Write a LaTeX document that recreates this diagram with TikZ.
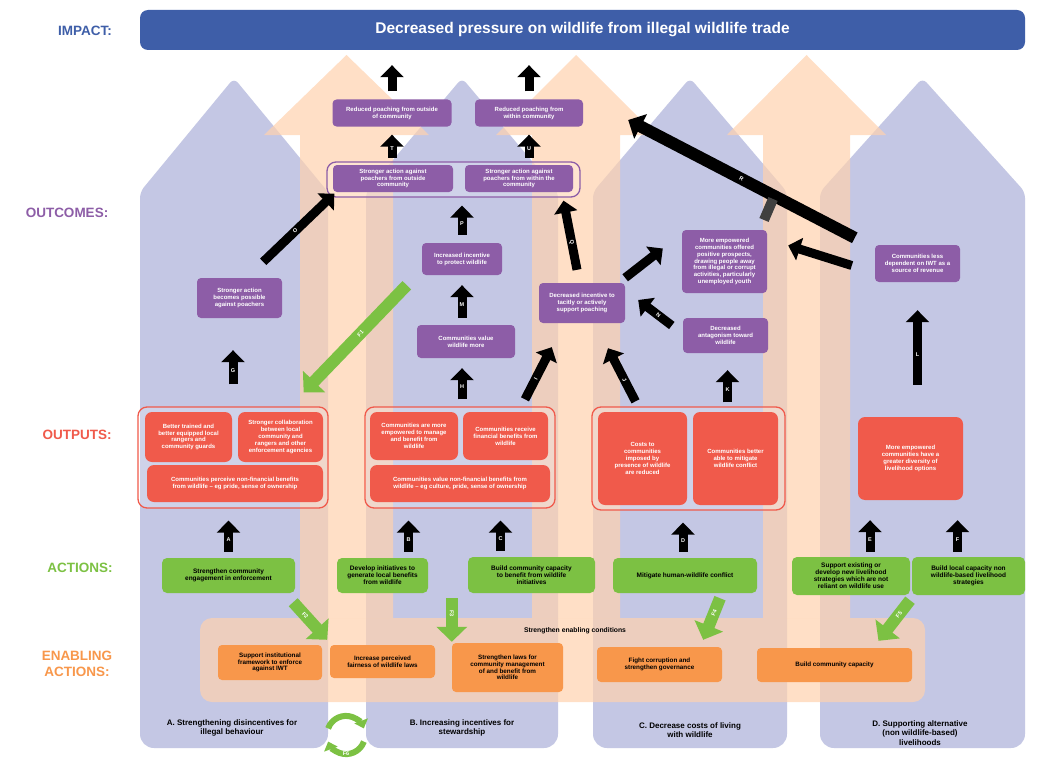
\documentclass[tikz,border=0pt]{standalone}
\usepackage{fontspec}
\setmainfont{Liberation Sans}
\usepackage{xcolor}
\usepackage{tikz}
\usetikzlibrary{arrows.meta,calc,positioning}
\definecolor{lav}{RGB}{196,199,228}
\definecolor{pch}{RGB}{255,210,174}
\definecolor{impblue}{RGB}{62,94,168}
\definecolor{outcpurple}{RGB}{141,93,167}
\definecolor{outpred}{RGB}{240,90,75}
\definecolor{actgreen}{RGB}{124,193,67}
\definecolor{enaborange}{RGB}{248,151,75}

\begin{document}
\begin{tikzpicture}[x=1pt,y=-1pt,line join=round,
  box/.style={rectangle,rounded corners=4pt,align=center,inner sep=1pt,font=\fontsize{6}{6.9}\selectfont\bfseries},
  sz/.style 2 args={minimum width=#1pt,minimum height=#2pt},
  outcbox/.style={box,fill=outcpurple,text=white},
  outpbox/.style={box,fill=outpred,text=white,rounded corners=7pt},
  actbox/.style={box,fill=actgreen,text=black,rounded corners=5pt,font=\fontsize{6.5}{7.1}\selectfont\bfseries},
  enabbox/.style={box,fill=enaborange,text=black,font=\fontsize{6.3}{6.8}\selectfont\bfseries},
  grp/.style={draw=#1,line width=1.3pt,rounded corners=9pt,inner sep=0pt,fill=white,fill opacity=.2},
  blk/.style={line width=9pt,-{Triangle[width=23pt,length=12pt]}},
  grn/.style={actgreen,line width=12pt,-{Triangle[width=30pt,length=15pt]}},
  lbl/.style={font=\fontsize{5.5}{6}\selectfont\bfseries,text=white,inner sep=0pt},
  lvl/.style={font=\fontsize{13.5}{15.5}\selectfont\bfseries,align=center},
  foot/.style={font=\fontsize{8}{9.2}\selectfont\bfseries,align=center}]
\fill[white] (0,0) rectangle (1053,760);
\useasboundingbox (0,0) rectangle (1053,760);
\foreach \l/\r in {140/328,366/558,593/787,820/1025}
  \fill[lav] (\l,600) [rounded corners=14pt]-- (\l,748) -- (\r,748) -- (\r,600)
    [rounded corners=6pt]-- (\r,192) -- ({(\l+\r)/2},78) -- (\l,192) -- cycle;
\foreach \l/\r in {300/393,532/620,763/850}
  \fill[pch,opacity=.7] (\l,618) -- (\l,135) -- (\l-36,135) -- ({(\l+\r)/2},55)
    -- (\r+36,135) -- (\r,135) -- (\r,618) -- cycle;
\node[fill=pch,fill opacity=.7,rounded corners=12pt,sz={725}{84},inner sep=0pt] (band) at (562.5,660) {};
\node[fill=impblue,text=white,rounded corners=8pt,sz={885}{40},font=\fontsize{15.5}{17}\selectfont\bfseries]
  (imp) at (582.5,30) {Decreased pressure on wildlife from illegal wildlife trade};

\node[lvl,text=impblue] (hImp) at (85,31) {IMPACT:};
\node[lvl,text=outcpurple] (hOutc) at (67,213) {OUTCOMES:};
\node[lvl,text=outpred] (hOutp) at (77,435) {OUTPUTS:};
\node[lvl,text=actgreen] (hAct) at (80,568) {ACTIONS:};
\node[lvl,text=enaborange] (hEnab) at (77,664) {ENABLING\\ACTIONS:};

\node[grp=outcpurple,sz={253}{35}] (topf) at (453.5,179.5) {};
\node[grp=outpred,sz={190}{101}] (oA) at (233,457.5) {};
\node[grp=outpred,sz={190}{101}] (oB) at (460,457.5) {};
\node[grp=outpred,sz={193}{103}] (oC) at (688.5,458.5) {};

\node[outcbox,sz={119}{27}] (rpo) at (392,113) {Reduced poaching from outside\\of community};
\node[outcbox,sz={108}{27}] (rpw) at (529,113) {Reduced poaching from\\within community};
\node[outcbox,sz={120}{27}] (sao) at (393,178.5) {Stronger action against\\poachers from outside\\community};
\node[outcbox,sz={108}{27}] (saw) at (519,178.5) {Stronger action against\\poachers from within the\\community};
\node[outcbox,sz={85}{40}] (sap) at (239.5,298) {Stronger action\\becomes possible\\against poachers};
\node[outcbox,sz={80}{32}] (iip) at (462,259) {Increased incentive\\to protect wildlife};
\node[outcbox,sz={98}{33}] (cvw) at (466,341.5) {Communities value\\wildlife more};
\node[outcbox,sz={86}{40}] (dis) at (582,303) {Decreased incentive to\\tacitly or actively\\support poaching};
\node[outcbox,sz={85}{63}] (mep) at (724.5,261.5) {More empowered\\communities offered\\positive prospects,\\drawing people away\\from illegal or corrupt\\activities, particularly\\unemployed youth};
\node[outcbox,sz={85}{35}] (dat) at (725.5,335.5) {Decreased\\antagonism toward\\wildlife};
\node[outcbox,sz={85}{37}] (cld) at (917.5,263.5) {Communities less\\dependent on IWT as a\\source of revenue};

\node[outpbox,sz={87}{50}] (btr) at (188.5,437) {Better trained and\\better equipped local\\rangers and\\community guards};
\node[outpbox,sz={85}{50}] (scl) at (280.5,437) {Stronger collaboration\\between local\\community and\\rangers and other\\enforcement agencies};
\node[outpbox,sz={176}{37}] (cpn) at (235,483.5) {Communities perceive non-financial benefits\\from wildlife -- eg pride, sense of ownership};
\node[outpbox,sz={88}{48}] (cem) at (414,436) {Communities are more\\empowered to manage\\and benefit from\\wildlife};
\node[outpbox,sz={85}{48}] (crf) at (505.5,436) {Communities receive\\financial benefits from\\wildlife};
\node[outpbox,sz={180}{37}] (cvn) at (460,483.5) {Communities value non-financial benefits from\\wildlife -- eg culture, pride, sense of ownership};
\node[outpbox,sz={89}{93}] (cci) at (642.5,458.5) {Costs to\\communities\\imposed by\\presence of wildlife\\are reduced};
\node[outpbox,sz={85}{93}] (cbm) at (735.5,458.5) {Communities better\\able to mitigate\\wildlife conflict};
\node[outpbox,sz={105}{83}] (mgd) at (910.5,458.5) {More empowered\\communities have a\\greater diversity of\\livelihood options};

\node[actbox,sz={133}{35}] (actA) at (228.5,575.5) {Strengthen community\\engagement in enforcement};
\node[actbox,sz={91}{35}] (actB) at (382.5,575.5) {Develop initiatives to\\generate local benefits\\from wildlife};
\node[actbox,sz={127}{36}] (actC) at (531.5,575) {Build community capacity\\to benefit from wildlife\\initiatives};
\node[actbox,sz={144}{35}] (actD) at (685,575.5) {Mitigate human-wildlife conflict};
\node[actbox,sz={118}{38}] (actE) at (851,576) {Support existing or\\develop new livelihood\\strategies which are not\\reliant on wildlife use};
\node[actbox,sz={113}{38}] (actF) at (968.5,576) {Build local capacity non\\wildlife-based livelihood\\strategies};

\node[font=\fontsize{6.8}{8}\selectfont\bfseries] (bandlbl) at (575,631) {Strengthen enabling conditions};
\node[enabbox,sz={104}{35}] (en1) at (270,662.5) {Support institutional\\framework to enforce\\against IWT};
\node[enabbox,sz={105}{33}] (en2) at (382.5,661.5) {Increase perceived\\fairness of wildlife laws};
\node[enabbox,sz={111}{49}] (en3) at (507.5,667.5) {Strengthen laws for\\community management\\of and benefit from\\wildlife};
\node[enabbox,sz={125}{35}] (en4) at (659.5,664.5) {Fight corruption and\\strengthen governance};
\node[enabbox,sz={155}{34}] (en5) at (834.5,665) {Build community capacity};

\node[foot] (fA) at (232,728) {A. Strengthening disincentives for\\illegal behaviour};
\node[foot] (fB) at (462,728) {B. Increasing incentives for\\stewardship};
\node[foot] (fC) at (690,730) {C. Decrease costs of living\\with wildlife};
\node[foot] (fD) at (920,733) {D. Supporting alternative\\(non wildlife-based)\\livelihoods};

\draw[blk] ([yshift=8pt]rpo.north) -- ([yshift=-15pt]rpo.north |- imp.south);
\draw[blk] ([yshift=8pt]rpw.north) -- ([yshift=-15pt]rpw.north |- imp.south);
\draw[blk] ([yshift=7pt]rpo.south |- sao.north) -- node[lbl,pos=.4]{T} ([yshift=-8pt]rpo.south);
\draw[blk] ([yshift=7pt]rpw.south |- saw.north) -- node[lbl,pos=.4]{U} ([yshift=-8pt]rpw.south);
\draw[blk] ([yshift=8pt]iip.north) -- node[lbl,pos=.4]{P} ([yshift=-8pt]iip.north |- topf.south);
\draw[blk] ([yshift=7pt]iip.south |- cvw.north) -- node[lbl,pos=.4]{M} ([yshift=-10pt]iip.south);
\draw[blk] ([yshift=7pt]iip.south |- oB.north) -- node[lbl,pos=.4]{H} ([yshift=-10pt]iip.south |- cvw.south);
\draw[blk] ([yshift=22pt]oA.north) -- node[lbl,pos=.4]{G} ([yshift=-32pt]oA.north |- sap.south);
\draw[blk] ([xshift=-19pt,yshift=16pt]sap.north east) -- node[lbl,pos=.45,sloped]{O} ([xshift=8pt,yshift=4pt]topf.south west);
\draw[blk] ([xshift=65pt,yshift=7pt]oB.north) -- node[lbl,pos=.4,sloped]{I} ([xshift=13pt,yshift=-24pt]dis.south west);
\draw[blk] ([xshift=-5pt,yshift=13pt]dis.north) -- node[lbl,pos=.4,sloped]{Q} ([xshift=110pt,yshift=-3pt]topf.south);
\draw[blk] ([xshift=-53pt,yshift=5pt]oC.north) -- node[lbl,pos=.4,sloped]{J} ([xshift=26pt,yshift=-25pt]dis.south);
\draw[blk] ([xshift=39pt,yshift=4pt]oC.north) -- node[lbl,pos=.4]{K} ([xshift=2pt,yshift=-17pt]dat.south);
\draw[blk] ([xshift=-11pt,yshift=10pt]dat.west) -- node[lbl,pos=.4,sloped]{N} ([xshift=13pt,yshift=3pt]dis.east);
\draw[blk] ([yshift=5pt]dis.north east) -- ([xshift=-19pt,yshift=13pt]mep.west);
\draw[blk] ([xshift=-23pt,yshift=-2pt]cld.west) -- ([xshift=21pt,yshift=16pt]mep.east);
\draw[blk,line width=12pt,-{Triangle[width=27pt,length=14pt]}] ([xshift=-20pt,yshift=7pt]cld.north west)
  -- node[lbl,pos=.5,sloped]{R} ([xshift=45pt,yshift=-7pt]rpw.east);
\draw[black!75,line width=10pt] (773,199) -- (764,220);
\draw[blk] ([yshift=32pt]cld.south |- mgd.north) -- node[lbl,pos=.4]{L} ([yshift=-28pt]cld.south);

\draw[blk] ([yshift=6pt]actA.north) -- node[lbl,pos=.4]{A} ([yshift=-12pt]actA.north |- oA.south);
\draw[blk] ([xshift=26pt,yshift=6pt]actB.north) -- node[lbl,pos=.4]{B} ([xshift=26pt,yshift=-12pt]actB.north |- oB.south);
\draw[blk] ([xshift=-31pt,yshift=6pt]actC.north) -- node[lbl,pos=.4]{C} ([xshift=-31pt,yshift=-12pt]actC.north |- oB.south);
\draw[blk] ([xshift=-2pt,yshift=6pt]actD.north) -- node[lbl,pos=.4]{D} ([xshift=-2pt,yshift=-12pt]actD.north |- oC.south);
\draw[blk] ([xshift=19pt,yshift=5pt]actE.north) -- node[lbl,pos=.4]{E} ([xshift=19pt,yshift=-20pt]actE.north |- mgd.south);
\draw[blk] ([xshift=-11pt,yshift=5pt]actF.north) -- node[lbl,pos=.4]{F} ([xshift=-11pt,yshift=-20pt]actF.north |- mgd.south);

\draw[grn] ([xshift=-15pt,yshift=-10pt]iip.south west) -- node[lbl,pos=.45,sloped]{F1} ([xshift=-25pt,yshift=14pt]oA.north east);
\draw[grn] ([xshift=-2pt,yshift=-9pt]actA.south east) -- node[lbl,pos=.35,sloped]{F2} ([xshift=5pt,yshift=5pt]en1.north east);
\draw[grn] ([yshift=-5pt]en3.north west |- actB.south) -- node[lbl,pos=.35,sloped]{F3} ([yshift=1pt]en3.north west);
\draw[grn] ([xshift=35pt,yshift=-5pt]actD.south) -- node[lbl,pos=.35,sloped]{F4} ([xshift=-19pt,yshift=7pt]en4.north east);
\draw[grn] ([xshift=59pt,yshift=-5pt]actE.south) -- node[lbl,pos=.35,sloped]{F5} ([xshift=44pt,yshift=7pt]en5.north);
\draw[actgreen,line width=6pt,-{Triangle[width=14pt,length=8pt]}] (328.1,728.4) arc[start angle=160,end angle=20,radius=19pt];
\draw[actgreen,line width=6pt,-{Triangle[width=14pt,length=8pt]}] (363.9,741.6) arc[start angle=-20,end angle=-160,radius=19pt];
\node[lbl] (cyc) at (346,754) {F6};
\end{tikzpicture}
\end{document}
